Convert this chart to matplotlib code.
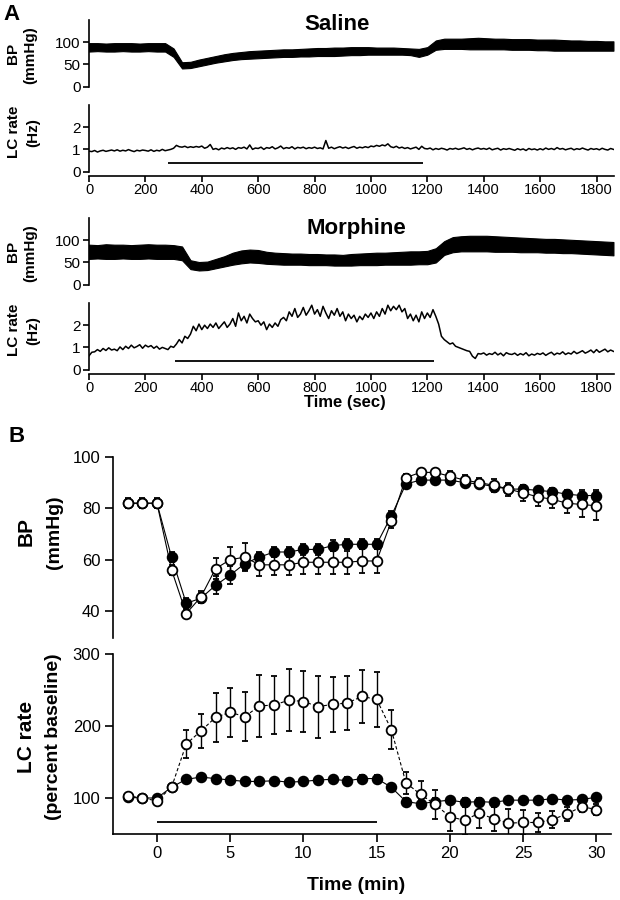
import numpy as np
import matplotlib
matplotlib.use("Agg")
import matplotlib.pyplot as plt
from matplotlib import font_manager

# ---------------------------------------------------------------- data
# Panel A: sample times (sec) of the digitised traces
t_bp = np.arange(0, 1861, 30)
t_lc = np.arange(0, 1861, 10)

# saline BP band (lower / upper envelope, mmHg)
saline_bp_lo = [79, 80, 79, 79, 80, 79, 79, 80, 79, 79,
                67, 41, 42, 46, 50, 54, 57, 60, 62, 63,
                64, 65, 66, 67, 67, 68, 68, 69, 69, 69,
                70, 71, 71, 72, 72, 72, 72, 72, 71, 67,
                72, 83, 85, 85, 85, 84, 84, 84, 84, 84,
                83, 83, 83, 82, 82, 81, 81, 81, 81, 81,
                81, 81, 81]
saline_bp_hi = [98, 98, 97, 98, 98, 98, 97, 98, 98, 98,
                86, 55, 56, 61, 65, 69, 73, 76, 78, 80,
                81, 82, 83, 84, 84, 85, 86, 87, 87, 88,
                88, 89, 89, 89, 88, 88, 88, 87, 86, 85,
                89, 104, 108, 108, 108, 109, 110, 109, 108, 108,
                107, 107, 107, 106, 106, 106, 105, 104, 104, 103,
                103, 102, 102]

# morphine BP band
morph_bp_lo = [58, 59, 58, 58, 59, 58, 58, 59, 58, 58,
               58, 55, 35, 32, 33, 37, 41, 45, 48, 50,
               49, 47, 46, 45, 45, 45, 44, 44, 44, 43,
               43, 43, 44, 44, 44, 45, 45, 45, 45, 46,
               46, 50, 67, 73, 75, 75, 75, 75, 74, 74,
               74, 73, 73, 73, 72, 72, 71, 71, 70, 69,
               68, 67, 66]
morph_bp_hi = [90, 89, 91, 90, 90, 89, 90, 91, 90, 90,
               89, 86, 55, 51, 52, 58, 64, 72, 77, 79,
               78, 74, 72, 71, 70, 70, 69, 69, 68, 68,
               67, 69, 70, 71, 72, 72, 73, 74, 75, 75,
               76, 82, 98, 107, 109, 110, 110, 110, 109, 108,
               107, 106, 105, 104, 103, 103, 102, 101, 100, 99,
               98, 97, 96]

# LC firing rate (Hz), one value per 10 s
saline_lc = [0.92, 0.90, 0.95, 0.88, 0.93, 0.96, 0.91, 0.94, 0.97, 0.93,
             0.98, 0.92, 0.96, 0.93, 0.99, 0.94, 0.90, 0.96, 0.93, 0.97,
             0.95, 0.92, 0.98, 0.91, 0.96, 0.93, 1.00, 0.94, 0.97, 1.00,
             1.05, 1.18, 1.12, 1.10, 1.14, 1.08, 1.12, 1.09, 1.13, 1.10,
             1.15, 1.05, 1.10, 1.22, 1.00, 1.04, 0.98, 1.06, 1.02, 1.08,
             1.03, 1.07, 1.00, 1.08, 1.05, 1.10, 1.02, 1.20, 1.00, 1.06,
             1.04, 1.10, 1.00, 1.08, 1.05, 1.12, 1.02, 1.07, 1.15, 1.03,
             1.08, 1.05, 1.12, 1.02, 1.09, 1.06, 1.10, 1.03, 1.08, 1.05,
             1.10, 1.04, 1.07, 1.02, 1.40, 1.05, 1.10, 1.03, 1.08, 1.12,
             1.06, 1.10, 1.04, 1.09, 1.13, 1.05, 1.10, 1.07, 1.12, 1.08,
             1.15, 1.12, 1.18, 1.14, 1.20, 1.16, 1.25, 1.12, 1.08, 1.14,
             1.06, 1.10, 1.04, 1.08, 1.02, 1.06, 1.10, 1.00, 1.14, 1.04,
             1.02, 1.06, 0.98, 1.04, 1.00, 1.05, 1.02, 0.97, 1.04, 1.01,
             1.05, 1.00, 1.03, 1.07, 1.00, 1.04, 0.98, 1.03, 1.06, 1.01,
             1.04, 1.00, 1.06, 0.98, 1.02, 1.05, 0.97, 1.03, 1.00, 1.04,
             1.00, 0.96, 1.03, 0.98, 1.02, 0.95, 1.04, 0.99, 1.02, 0.97,
             1.03, 0.98, 1.06, 1.00, 1.04, 0.99, 1.08, 1.01, 1.04, 0.98,
             1.02, 1.05, 0.98, 1.03, 1.00, 1.06, 1.01, 0.97, 1.04, 1.00,
             1.03, 0.98, 1.05, 1.00, 0.97, 1.04, 1.00]
morph_lc = [0.62, 0.78, 0.80, 0.90, 0.82, 0.95, 0.86, 0.98, 0.88, 0.92,
            0.85, 1.02, 0.90, 1.05, 0.95, 1.10, 0.98, 1.04, 1.12, 0.96,
            1.10, 1.02, 1.08, 0.96, 1.05, 0.92, 1.00, 0.95, 0.90, 1.05,
            1.00, 1.15, 1.35, 1.20, 1.50, 1.40, 1.60, 1.95, 1.75, 2.05,
            1.80, 2.00, 1.85, 2.05, 1.90, 2.10, 1.85, 2.00, 2.15, 1.90,
            2.05, 2.30, 1.95, 2.55, 2.20, 2.40, 2.10, 2.50, 2.30, 2.15,
            2.20, 2.00, 2.15, 1.80, 2.05, 1.90, 2.10, 1.95, 2.25, 2.35,
            2.20, 2.60, 2.40, 2.75, 2.35, 2.50, 2.80, 2.45, 2.65, 2.90,
            2.50, 2.70, 2.40, 2.85, 2.55, 2.30, 2.65, 2.45, 2.75, 2.40,
            2.60, 2.20, 2.50, 2.30, 2.45, 2.15, 2.40, 2.25, 2.50, 2.35,
            2.55, 2.30, 2.60, 2.40, 2.75, 2.50, 2.90, 2.65, 2.85, 2.70,
            2.90, 2.60, 2.75, 2.30, 2.50, 2.20, 2.45, 2.15, 2.60, 2.30,
            2.55, 2.35, 2.70, 2.40, 2.05, 1.50, 1.35, 1.25, 1.15, 1.20,
            1.05, 1.00, 0.95, 0.90, 0.85, 0.82, 0.60, 0.50, 0.72, 0.70,
            0.75, 0.65, 0.72, 0.68, 0.78, 0.66, 0.74, 0.62, 0.76, 0.70,
            0.68, 0.74, 0.64, 0.72, 0.66, 0.76, 0.62, 0.70, 0.65, 0.73,
            0.68, 0.75, 0.64, 0.72, 0.78, 0.66, 0.74, 0.70, 0.80, 0.68,
            0.75, 0.70, 0.82, 0.72, 0.78, 0.85, 0.74, 0.80, 0.88, 0.76,
            0.90, 0.78, 0.85, 0.92, 0.80, 0.88, 0.82]

saline_bar = (280, 1183)
morph_bar = (305, 1223)

# Panel B: group means +/- SEM, one point per minute
t_min = [-2, -1, 0, 1, 2, 3, 4, 5, 6, 7, 8, 9, 10, 11, 12, 13, 14, 15, 16,
         17, 18, 19, 20, 21, 22, 23, 24, 25, 26, 27, 28, 29, 30]

bp_saline = [82, 82, 82, 61, 43, 45, 50, 54, 58.5, 61, 63, 63, 64, 64, 65.5,
             66, 66, 66, 77, 89.5, 91, 91, 91, 90, 89.5, 88.5, 87.5, 87.5,
             87, 86.5, 85.5, 85, 85]
bp_saline_err = [1.5, 1.5, 1.5, 2, 2, 2, 3.5, 3.5, 2.5, 2, 2, 2, 2, 2, 2,
                 2, 2, 2, 2, 1.5, 1.5, 1.5, 1.5, 1.5, 1.5, 1.5, 1.5, 1.5,
                 1.5, 1.5, 1.5, 2, 2]
bp_morph = [82, 82, 82, 56, 39, 45.5, 56.5, 60, 61, 58, 58, 58, 59, 59, 59,
            59, 59.5, 59.5, 75, 92, 94, 94, 92.5, 91, 90, 89, 87.5, 86,
            84.5, 83.5, 82, 81.5, 81]
bp_morph_err = [2, 2, 2, 2, 1.5, 2.5, 4, 5, 5.5, 4.5, 4, 4, 4.5, 4.5, 4.5,
                4.5, 4.5, 4.5, 2.5, 1.5, 1.5, 1.5, 2, 2, 2, 2.5, 2.5, 3,
                3.5, 3.5, 4, 5, 5.5]

lc_saline = [101, 100, 100, 115, 126, 129, 127, 125, 123, 123, 124, 122,
             123, 125, 126, 124, 127, 127, 115, 95, 92, 95, 97, 94, 95,
             94, 97, 97, 97, 99, 97, 98, 101]
lc_saline_err = [4, 4, 4, 4, 5, 4, 4, 4, 4, 4, 4, 4, 4, 4, 4, 5, 5, 5, 4,
                 5, 6, 5, 5, 6, 5, 5, 5, 4, 4, 4, 4, 4, 4]
lc_morph = [103, 100, 96, 115, 175, 193, 212, 219, 213, 228, 229, 236,
            234, 227, 230, 232, 241, 237, 195, 121, 105, 91, 74, 69, 79,
            71, 65, 66, 66, 70, 78, 88, 84]
lc_morph_err = [4, 4, 4, 5, 20, 23, 34, 34, 34, 43, 40, 43, 43, 43, 38,
                37, 37, 38, 27, 15, 18, 20, 20, 20, 20, 17, 20, 18, 13,
                12, 10, 8, 8]
infusion_min = (0, 15)
infusion_level = 67

# ---------------------------------------------------------------- style
installed = {f.name for f in font_manager.fontManager.ttflist}
families = [f for f in ["Liberation Sans Narrow", "Liberation Sans", "DejaVu Sans"]
            if f in installed]
plt.rcParams["font.family"] = families
plt.rcParams["axes.linewidth"] = 1.2
plt.rcParams["xtick.major.width"] = 1.2
plt.rcParams["ytick.major.width"] = 1.2

W, H = 620, 900
fig = plt.figure(figsize=(W / 100, H / 100), dpi=100)


def px_axes(x0, y0, x1, y1):
    """Axes from a pixel box given with a top-left origin."""
    return fig.add_axes([x0 / W, 1 - y1 / H, (x1 - x0) / W, (y1 - y0) / H])


def fig_text(x, y, s, **kw):
    kw.setdefault("ha", "center")
    kw.setdefault("va", "center")
    fig.text(x / W, 1 - y / H, s, **kw)


def trace_axes(box, ylim, yticks, show_x):
    ax = px_axes(*box)
    ax.set_xlim(0, 1862)
    ax.set_ylim(*ylim)
    for s in ("top", "right"):
        ax.spines[s].set_visible(False)
    ax.spines["left"].set_bounds(max(ylim[0], 0), ylim[1])
    ax.set_yticks(yticks)
    ax.tick_params(axis="y", length=4, labelsize=11, pad=2)
    if show_x:
        ax.set_xticks(range(0, 1801, 200))
        ax.tick_params(axis="x", length=4, labelsize=10.5, pad=1)
    else:
        ax.spines["bottom"].set_visible(False)
        ax.set_xticks([])
    return ax


# ---------------------------------------------------------------- panel A
rows = [
    (saline_bp_lo, saline_bp_hi, saline_lc, saline_bar, 0, 337, "Saline"),
    (morph_bp_lo, morph_bp_hi, morph_lc, morph_bar, 198, 356, "Morphine"),
]
for lo, hi, lc, bar, dy, title_x, title in rows:
    ax_bp = trace_axes((89, 20 + dy, 614, 86.7 + dy), (0, 150), [0, 50, 100], False)
    ax_bp.fill_between(t_bp, lo, hi, color="black", linewidth=0.8)

    ax_lc = trace_axes((89, 105 + dy, 614, 176 + dy), (-0.2, 3.0), [0, 1, 2], True)
    ax_lc.plot(t_lc, lc, color="black", linewidth=1.1)
    ax_lc.hlines(0.38, bar[0], bar[1], color="black", linewidth=1.3)

    fig_text(title_x, 25 + dy * 1.03, title, fontsize=16, fontweight="bold")
    fig_text(13, 53 + dy, "BP", rotation=90, fontsize=11, fontweight="bold")
    fig_text(30, 55 + dy, "(mmHg)", rotation=90, fontsize=11, fontweight="bold")
    fig_text(14, 132 + dy, "LC rate", rotation=90, fontsize=11, fontweight="bold")
    fig_text(33, 133 + dy, "(Hz)", rotation=90, fontsize=11, fontweight="bold")

fig_text(12, 14, "A", fontsize=16, fontweight="bold")
fig_text(345, 402, "Time (sec)", fontsize=12, fontweight="bold")

# ---------------------------------------------------------------- panel B
def group_plot(ax, y, err, filled, ls):
    face = "black" if filled else "white"
    ax.errorbar(t_min, y, yerr=err, fmt="o", color="black", mfc=face, mec="black",
                ms=7, mew=1.3, elinewidth=1.0, capsize=2.5, capthick=1.0,
                zorder=3 if filled else 4)
    ax.plot(t_min, y, color="black", linewidth=0.8, linestyle=ls,
            zorder=2)


ax_b1 = px_axes(113, 457, 611, 638)
ax_b1.set_xlim(-3, 31)
ax_b1.set_ylim(29.5, 100)
group_plot(ax_b1, bp_saline, bp_saline_err, True, "-")
group_plot(ax_b1, bp_morph, bp_morph_err, False, "-")
for s in ("top", "right", "bottom"):
    ax_b1.spines[s].set_visible(False)
ax_b1.set_xticks([])
ax_b1.set_yticks([40, 60, 80, 100])
ax_b1.tick_params(axis="y", length=6, labelsize=12, pad=3)

ax_b2 = px_axes(113, 654, 611, 834)
ax_b2.set_xlim(-3, 31)
ax_b2.set_ylim(50, 300)
group_plot(ax_b2, lc_saline, lc_saline_err, True, "-")
group_plot(ax_b2, lc_morph, lc_morph_err, False, (0, (3, 2)))
ax_b2.hlines(infusion_level, *infusion_min, color="black", linewidth=1.3)
for s in ("top", "right"):
    ax_b2.spines[s].set_visible(False)
ax_b2.set_xticks(range(0, 31, 5))
ax_b2.set_yticks([100, 200, 300])
ax_b2.tick_params(length=6, labelsize=12, pad=3)

fig_text(17, 437, "B", fontsize=16, fontweight="bold")
fig_text(26, 532, "BP", rotation=90, fontsize=15, fontweight="bold")
fig_text(55, 532, "(mmHg)", rotation=90, fontsize=14, fontweight="bold")
fig_text(26, 737, "LC rate", rotation=90, fontsize=15, fontweight="bold")
fig_text(54, 737, "(percent baseline)", rotation=90, fontsize=14, fontweight="bold")
fig_text(356, 885, "Time (min)", fontsize=14, fontweight="bold")

fig.savefig("out.png", dpi=100)
